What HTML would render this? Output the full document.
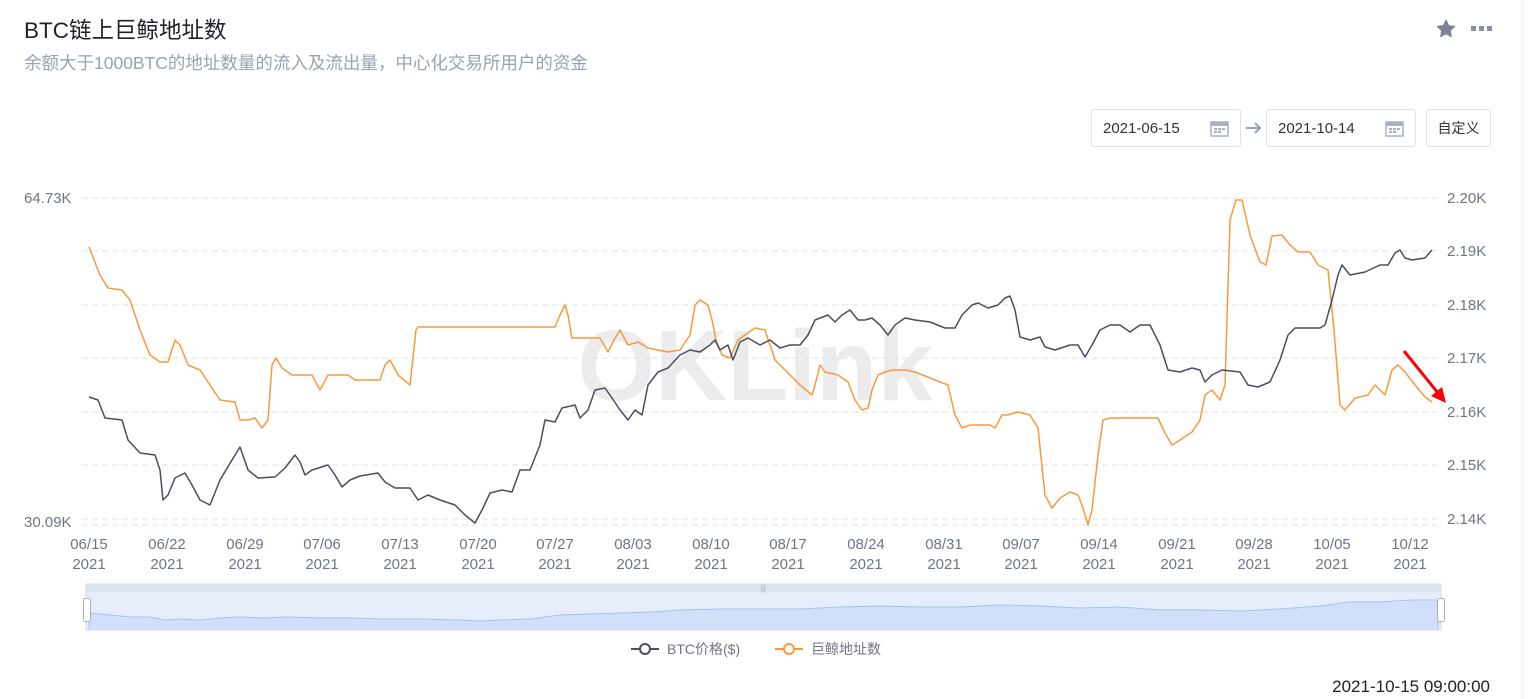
<!DOCTYPE html>
<html><head><meta charset="utf-8"><style>
body{margin:0;width:1537px;height:699px;background:#fff;overflow:hidden;font-family:"Liberation Sans","Noto Sans CJK SC",sans-serif;position:relative}
.t{position:absolute;white-space:nowrap}
.box{position:absolute;border:1px solid #dde1ea;border-radius:3px;height:38px;box-sizing:border-box;font-size:14px;color:#333;line-height:37px}
</style></head><body>
<div class="t" style="left:24px;top:13px;font-size:22.5px;color:#1f2329">BTC链上巨鲸地址数</div>
<div class="t" style="left:24px;top:50px;font-size:17.5px;color:#9aa2b1">余额大于1000BTC的地址数量的流入及流出量，中心化交易所用户的资金</div>
<div style="position:absolute;left:1522px;top:0;width:1px;height:699px;background:#eef0f4"></div>
<svg style="position:absolute;left:1436px;top:19px" width="20" height="20" viewBox="0 0 20 20"><path d="M10 1l2.7 5.6 6.1.8-4.5 4.2 1.1 6.1L10 14.8 4.6 17.7l1.1-6.1L1.2 7.4l6.1-.8z" fill="#7e8596" stroke="#7e8596" stroke-linejoin="round"/></svg>
<div style="position:absolute;left:1471px;top:26px;width:5px;height:5px;background:#8a909c"></div>
<div style="position:absolute;left:1479px;top:26px;width:5px;height:5px;background:#8a909c"></div>
<div style="position:absolute;left:1487px;top:26px;width:5px;height:5px;background:#8a909c"></div>
<div class="box" style="left:1091px;top:109px;width:150px;padding-left:11px;font-size:15px">2021-06-15</div>
<div class="box" style="left:1266px;top:109px;width:150px;padding-left:11px;font-size:15px">2021-10-14</div>
<div class="box" style="left:1426px;top:109px;width:65px;text-align:center">自定义</div>
<svg style="position:absolute;left:1210px;top:119px" width="20" height="18"><rect x="1" y="3" width="17" height="14" fill="none" stroke="#aab0bd" stroke-width="1.5"/><rect x="1" y="3" width="17" height="4" fill="#aab0bd"/><g fill="#aab0bd"><rect x="4" y="9" width="3" height="2"/><rect x="8" y="9" width="3" height="2"/><rect x="12" y="9" width="3" height="2"/><rect x="4" y="12" width="3" height="2"/><rect x="8" y="12" width="3" height="2"/></g></svg>
<svg style="position:absolute;left:1385px;top:119px" width="20" height="18"><rect x="1" y="3" width="17" height="14" fill="none" stroke="#aab0bd" stroke-width="1.5"/><rect x="1" y="3" width="17" height="4" fill="#aab0bd"/><g fill="#aab0bd"><rect x="4" y="9" width="3" height="2"/><rect x="8" y="9" width="3" height="2"/><rect x="12" y="9" width="3" height="2"/><rect x="4" y="12" width="3" height="2"/><rect x="8" y="12" width="3" height="2"/></g></svg>
<svg style="position:absolute;left:1244px;top:120px" width="20" height="16"><path d="M2 8h14M11 3l5 5-5 5" fill="none" stroke="#9aa2b1" stroke-width="2"/></svg>

<svg style="position:absolute;left:0;top:0" width="1537" height="699">
<text x="755" y="400" font-size="100" font-weight="bold" fill="#ececec" text-anchor="middle" font-family="Liberation Sans">OKLink</text>
<g stroke="#dfe1e6" stroke-dasharray="6,4" stroke-width="1">
<line x1="82" x2="1437" y1="198" y2="198"/><line x1="82" x2="1437" y1="251" y2="251"/><line x1="82" x2="1437" y1="305" y2="305"/><line x1="82" x2="1437" y1="358" y2="358"/><line x1="82" x2="1437" y1="412" y2="412"/><line x1="82" x2="1437" y1="465" y2="465"/><line x1="82" x2="1437" y1="519" y2="519"/><line x1="82" x2="1437" y1="525" y2="525"/>
</g>
<g font-size="15" fill="#6e7585" font-family="Liberation Sans">
<text x="24" y="203">64.73K</text><text x="24" y="527">30.09K</text>
<text x="1447" y="203">2.20K</text><text x="1447" y="256">2.19K</text><text x="1447" y="310">2.18K</text><text x="1447" y="363">2.17K</text><text x="1447" y="417">2.16K</text><text x="1447" y="470">2.15K</text><text x="1447" y="524">2.14K</text>
</g>
<g font-size="15" fill="#6e7585" text-anchor="middle" font-family="Liberation Sans">
<text x="89" y="549">06/15</text><text x="89" y="569">2021</text>
<text x="167" y="549">06/22</text><text x="167" y="569">2021</text>
<text x="245" y="549">06/29</text><text x="245" y="569">2021</text>
<text x="322" y="549">07/06</text><text x="322" y="569">2021</text>
<text x="400" y="549">07/13</text><text x="400" y="569">2021</text>
<text x="478" y="549">07/20</text><text x="478" y="569">2021</text>
<text x="555" y="549">07/27</text><text x="555" y="569">2021</text>
<text x="633" y="549">08/03</text><text x="633" y="569">2021</text>
<text x="711" y="549">08/10</text><text x="711" y="569">2021</text>
<text x="788" y="549">08/17</text><text x="788" y="569">2021</text>
<text x="866" y="549">08/24</text><text x="866" y="569">2021</text>
<text x="944" y="549">08/31</text><text x="944" y="569">2021</text>
<text x="1021" y="549">09/07</text><text x="1021" y="569">2021</text>
<text x="1099" y="549">09/14</text><text x="1099" y="569">2021</text>
<text x="1177" y="549">09/21</text><text x="1177" y="569">2021</text>
<text x="1254" y="549">09/28</text><text x="1254" y="569">2021</text>
<text x="1332" y="549">10/05</text><text x="1332" y="569">2021</text>
<text x="1410" y="549">10/12</text><text x="1410" y="569">2021</text>
</g>
<polyline fill="none" stroke="#f79a3e" stroke-width="1.5" stroke-linejoin="round" points="89,247 100,275 108,288 122,290 130,300 140,330 150,355 160,362 168,362 175,340 180,345 188,365 200,370 210,385 220,400 235,402 240,420 248,420 255,418 262,428 268,420 272,365 276,358 282,368 292,375 312,375 320,390 328,375 348,375 355,380 380,380 385,365 390,360 398,375 410,385 416,330 418,327 555,327 560,315 565,305 568,315 572,338 600,338 608,352 614,340 620,330 628,345 638,342 648,348 668,352 680,350 690,335 695,305 700,300 708,305 712,320 716,340 722,355 730,358 738,340 745,335 755,328 765,330 770,345 775,360 780,365 790,375 800,385 812,395 815,385 820,365 825,372 838,375 848,382 855,400 862,410 868,408 872,390 878,375 885,372 892,370 905,370 915,372 925,376 935,380 948,385 955,415 962,428 970,425 990,425 995,428 1002,415 1008,415 1018,412 1030,415 1038,428 1045,495 1052,508 1060,498 1070,492 1078,495 1082,505 1088,525 1092,510 1098,455 1103,420 1110,418 1158,418 1165,433 1172,445 1180,440 1192,432 1200,420 1205,395 1212,390 1220,400 1225,385 1230,220 1236,200 1242,200 1250,235 1260,262 1266,265 1272,236 1282,235 1290,245 1298,252 1310,252 1318,265 1328,270 1334,330 1340,405 1345,410 1355,398 1368,395 1375,385 1385,395 1392,370 1398,365 1405,372 1415,385 1425,397 1432,402"/>
<polyline fill="none" stroke="#4a4e60" stroke-width="1.5" stroke-linejoin="round" points="89,397 98,400 105,418 122,420 128,440 140,453 155,455 160,470 163,500 168,495 175,478 185,473 192,485 200,500 210,505 220,480 232,460 240,447 248,470 258,478 275,477 285,468 295,455 300,462 305,475 312,470 328,465 335,475 342,487 350,480 360,476 378,473 385,482 395,488 410,488 418,500 428,495 440,500 455,505 465,515 475,523 482,510 490,493 502,490 512,492 520,470 530,470 540,445 545,420 555,422 562,408 575,405 580,418 588,410 595,390 605,388 612,398 620,410 628,420 635,410 642,415 648,385 658,372 668,368 680,355 690,350 700,352 710,345 715,340 720,350 728,345 733,360 740,342 748,338 760,345 770,340 780,348 790,345 800,345 808,335 815,320 828,315 835,322 842,315 850,310 858,320 865,320 872,318 880,325 888,335 895,325 905,318 915,320 930,322 945,328 955,328 962,315 972,305 978,303 988,308 998,305 1005,298 1010,296 1015,310 1020,337 1030,340 1040,337 1045,347 1055,350 1070,345 1078,345 1085,357 1092,345 1100,330 1110,325 1120,325 1130,332 1140,325 1150,325 1160,345 1168,370 1180,372 1192,368 1200,370 1205,382 1212,375 1222,370 1240,372 1248,385 1258,387 1270,382 1280,360 1288,335 1295,328 1320,328 1325,325 1332,300 1338,275 1342,265 1350,275 1365,272 1380,265 1388,265 1395,253 1400,250 1405,258 1412,260 1425,258 1432,250"/>
<line x1="1404" y1="351" x2="1438" y2="393" stroke="#f00" stroke-width="3"/>
<polygon points="1446,403 1431,396 1442,387" fill="#f00"/>
<rect x="86" y="584" width="1355" height="8" fill="#dbe3f1"/>
<rect x="86" y="592" width="1355" height="38" fill="#e6eefc"/>
<polygon fill="#d2dffa" stroke="#a9c0f0" stroke-width="1" points="89,613 110,615 130,617 150,617 165,620 180,619 200,620 220,618 240,617 260,618 290,617 320,618 350,618 380,619 420,619 460,620 480,621 500,620 530,619 560,615 590,614 620,613 650,612 680,610 720,609 760,609 800,609 840,607 880,606 920,607 960,607 1000,605 1040,606 1080,608 1120,607 1160,610 1200,610 1240,611 1280,609 1320,606 1350,602 1380,602 1410,600 1438,600 1438,630 89,630"/>
<rect x="86" y="584" width="1355" height="46" fill="none" stroke="#d6dde9"/>
<text x="763" y="591" font-size="7" fill="#aab" text-anchor="middle">|||</text>
<rect x="83.5" y="598.5" width="7" height="23" rx="2" fill="#fff" stroke="#a7b1c5"/>
<rect x="1437.5" y="598.5" width="7" height="23" rx="2" fill="#fff" stroke="#a7b1c5"/>
<line x1="631" y1="649" x2="659" y2="649" stroke="#4a4e60" stroke-width="2"/><circle cx="645" cy="649" r="5" fill="#fff" stroke="#4a4e60" stroke-width="2"/>
<text x="667" y="654" font-size="14" fill="#6e7585">BTC价格($)</text>
<line x1="775" y1="649" x2="803" y2="649" stroke="#f79a3e" stroke-width="2"/><circle cx="789" cy="649" r="5" fill="#fff" stroke="#f79a3e" stroke-width="2"/>
<text x="811" y="654" font-size="14" fill="#6e7585">巨鲸地址数</text>
<text x="1490" y="692" font-size="17" fill="#222" text-anchor="end" font-family="Liberation Sans">2021-10-15 09:00:00</text>
</svg>
</body></html>
